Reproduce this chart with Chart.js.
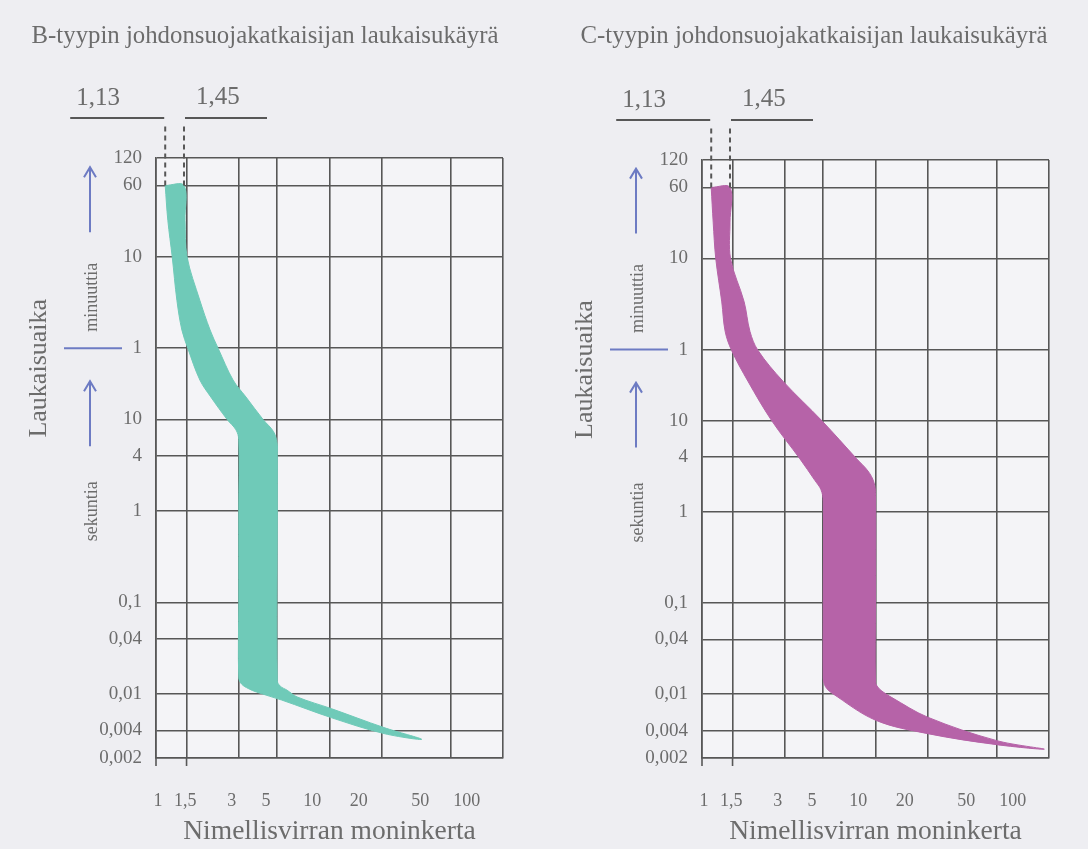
<!DOCTYPE html>
<html>
<head>
<meta charset="utf-8">
<script src="https://cdn.jsdelivr.net/npm/chart.js@4.4.1/dist/chart.umd.min.js"></script>
<style>
  html, body { margin: 0; padding: 0; background: #eeeef2; }
  #wrap { position: relative; width: 1088px; height: 849px; }
  canvas { position: absolute; top: 0; }
</style>
</head>
<body>
<div id="wrap">
  <canvas id="chartB" width="544" height="849" style="left:0"></canvas>
  <canvas id="chartC" width="544" height="849" style="left:544px"></canvas>
</div>
<script>
// Trip curves (laukaisukäyrät) of B and C type circuit breakers.
const gridX = [1, 1.5, 3, 5, 10, 20, 50, 100];
const xLabels = ['1', '1,5', '3', '5', '10', '20', '50', '100'];
const tickMarksX = [1, 1.5];
// time in seconds, labelled in minutes above 1 min
const gridY = [0.002, 0.004, 0.01, 0.04, 0.1, 1, 4, 10, 60, 600, 3600, 7200];
const yLabels = ['0,002', '0,004', '0,01', '0,04', '0,1', '1', '4', '10', '1', '10', '60', '120'];
const limitValues = [1.13, 1.45];
const limitLabels = ['1,13', '1,45'];

// B band: left (lower) edge and right (upper) edge, top to bottom
const bLowerX = [1.13, 1.17, 1.24, 1.32, 1.41, 1.53, 1.79, 2.07, 2.57, 2.89, 3, 3, 3, 3, 3.12, 3.4, 3.8, 5.3, 10.3, 20.6, 34];
const bLowerY = [3600, 1500, 600, 200, 95, 59, 27, 17.6, 10, 7.7, 6, 1, 0.1, 0.015, 0.0128, 0.0115, 0.0105, 0.0086, 0.0055, 0.0037, 0.0032];
const bUpperX = [1.45, 1.47, 1.51, 1.79, 2.05, 2.28, 2.78, 3.3, 4.14, 4.75, 4.98, 5, 5, 5, 5.2, 5.7, 6.5, 10.3, 20.6];
const bUpperY = [3600, 1500, 600, 200, 95, 60, 27, 17.6, 10, 7.4, 5.6, 4, 1, 0.014, 0.0122, 0.011, 0.0093, 0.0069, 0.0043];

// C band
const cLowerX = [1.13, 1.16, 1.2, 1.3, 1.36, 1.48, 1.84, 2.52, 3.67, 4.48, 4.85, 5, 5, 5, 5.08, 5.25, 5.6, 10, 20, 50, 94];
const cLowerY = [3600, 1500, 600, 200, 95, 59, 27, 10, 3.8, 2.2, 1.75, 1.3, 0.1, 0.015, 0.0128, 0.0115, 0.0103, 0.0052, 0.0037, 0.0028, 0.0025];
const cUpperX = [1.45, 1.45, 1.46, 1.75, 1.89, 2.1, 2.93, 4.9, 7.8, 9.05, 9.8, 10, 10, 10, 10.3, 10.9, 12.3, 20, 50];
const cUpperY = [3600, 1500, 600, 200, 95, 59, 27, 10, 3.8, 2.8, 2.1, 1.5, 0.1, 0.0136, 0.012, 0.0108, 0.0093, 0.0056, 0.0031];

const serif = '"Liberation Serif", "DejaVu Serif", serif';
const textColor = '#6c6c6c';
const gridColor = '#575757';
const blue = '#6d7bc3';

Chart.defaults.font.family = serif;

// Closed outline: down the lower edge, back up the upper edge.
function band(lx, ly, ux, uy) {
  const pts = lx.map((x, i) => ({ x: x, y: ly[i] }));
  for (let i = ux.length - 1; i >= 0; i--) pts.push({ x: ux[i], y: uy[i] });
  pts.push(pts[0]);
  return pts;
}

function vText(ctx, text, x, y, size) {
  ctx.save();
  ctx.translate(x, y);
  ctx.rotate(-Math.PI / 2);
  ctx.font = size + 'px ' + serif;
  ctx.fillStyle = textColor;
  ctx.textAlign = 'center';
  ctx.textBaseline = 'middle';
  ctx.fillText(text, 0, 0);
  ctx.restore();
}

function arrowUp(ctx, x, yBottom, yTip) {
  ctx.beginPath();
  ctx.moveTo(x, yBottom);
  ctx.lineTo(x, yTip);
  ctx.moveTo(x - 6, yTip + 10);
  ctx.lineTo(x, yTip);
  ctx.lineTo(x + 6, yTip + 10);
  ctx.stroke();
}

// Plot background plus the marks around the grid (limits, arrows, side texts).
const decor = {
  id: 'decor',
  beforeDraw(chart) {
    const { ctx, chartArea: a } = chart;
    ctx.save();
    ctx.fillStyle = '#f4f4f7';
    ctx.fillRect(a.left, a.top, a.right - a.left, a.bottom - a.top);
    ctx.restore();
  },
  afterDraw(chart) {
    const { ctx, chartArea: a, scales: { x, y } } = chart;
    ctx.save();
    // 1,13 and 1,45 limits
    const xs = limitValues.map(v => x.getPixelForValue(v));
    const y60 = y.getPixelForValue(3600);
    ctx.strokeStyle = gridColor;
    ctx.lineWidth = 2;
    ctx.setLineDash([5, 4]);
    xs.forEach(px => {
      ctx.beginPath();
      ctx.moveTo(px, y60);
      ctx.lineTo(px, a.top - 35);
      ctx.stroke();
    });
    ctx.setLineDash([]);
    const ly = a.top - 40;
    ctx.beginPath();
    ctx.moveTo(xs[0] - 95, ly);
    ctx.lineTo(xs[0] - 1, ly);
    ctx.moveTo(xs[1] + 1, ly);
    ctx.lineTo(xs[1] + 83, ly);
    ctx.stroke();
    ctx.font = '25px ' + serif;
    ctx.fillStyle = textColor;
    ctx.textAlign = 'center';
    ctx.textBaseline = 'middle';
    ctx.fillText(limitLabels[0], xs[0] - 67, a.top - 60);
    ctx.fillText(limitLabels[1], xs[1] + 34, a.top - 61);

    // short tick marks under the axis at 1 and 1,5
    ctx.lineWidth = 1.6;
    tickMarksX.forEach(v => {
      const px = x.getPixelForValue(v);
      ctx.beginPath();
      ctx.moveTo(px, a.bottom);
      ctx.lineTo(px, a.bottom + 8);
      ctx.stroke();
    });

    // minutes / seconds markers
    const m1 = y.getPixelForValue(60);
    const ax = a.left - 66;
    ctx.strokeStyle = blue;
    ctx.lineWidth = 2;
    arrowUp(ctx, ax, m1 - 116, m1 - 181);
    arrowUp(ctx, ax, m1 + 98, m1 + 33);
    ctx.beginPath();
    ctx.moveTo(a.left - 92, m1);
    ctx.lineTo(a.left - 34, m1);
    ctx.stroke();
    vText(ctx, 'minuuttia', a.left - 64, m1 - 51, 18);
    vText(ctx, 'sekuntia', a.left - 64, m1 + 163, 18);
    vText(ctx, 'Laukaisuaika', a.left - 117, m1 + 20, 26);
    ctx.restore();
  }
};

function makeChart(id, title, points, color, pad) {
  return new Chart(document.getElementById(id), {
    type: 'line',
    data: {
      datasets: [{
        data: points,
        backgroundColor: color,
        borderColor: color,
        borderWidth: 1,
        fill: 'shape',
        pointRadius: 0,
        tension: 0.35
      }]
    },
    options: {
      responsive: false,
      animation: false,
      devicePixelRatio: 1,
      layout: { padding: { left: pad.left, right: pad.right, top: 0, bottom: 0 } },
      plugins: {
        legend: { display: false },
        tooltip: { enabled: false },
        title: {
          display: true,
          text: title,
          color: textColor,
          font: { family: serif, size: 24.8, weight: 'normal' },
          padding: { top: 22.1, bottom: pad.top - 22.1 - 29.8 }
        }
      },
      scales: {
        x: {
          type: 'logarithmic',
          min: 1,
          max: 100,
          afterBuildTicks: s => { s.ticks = gridX.map(v => ({ value: v })); },
          afterFit: s => { s.height = 0; },
          ticks: { display: false },
          grid: { color: gridColor, lineWidth: 1.6, drawTicks: false },
          border: { color: gridColor, width: 1.6 }
        },
        // tick labels sit a little left of their grid lines in the original
        xl: {
          type: 'logarithmic',
          position: 'bottom',
          weight: 1,
          min: 0.97,
          max: 172,
          afterBuildTicks: s => { s.ticks = gridX.map(v => ({ value: v })); },
          afterFit: s => { s.height = 91; },
          grid: { display: false },
          border: { display: false },
          ticks: {
            autoSkip: false,
            maxRotation: 0,
            padding: 24,
            color: textColor,
            font: { size: 18 },
            callback: (v, i) => xLabels[i]
          },
          title: {
            display: true,
            text: 'Nimellisvirran moninkerta',
            color: textColor,
            font: { size: 27.5 },
            padding: { top: 0, bottom: 1 }
          }
        },
        y: {
          type: 'logarithmic',
          min: 0.002,
          max: 7200,
          afterBuildTicks: s => { s.ticks = gridY.map(v => ({ value: v })); },
          afterFit: s => { s.width = pad.axis; },
          ticks: {
            autoSkip: false,
            padding: 14,
            color: textColor,
            font: { size: 19 },
            callback: (v, i) => yLabels[i]
          },
          grid: { color: gridColor, lineWidth: 1.6, drawTicks: false },
          border: { color: gridColor, width: 1.6 }
        }
      }
    },
    plugins: [decor]
  });
}

makeChart('chartB', 'B-tyypin johdonsuojakatkaisijan laukaisukäyrä',
  band(bLowerX, bLowerY, bUpperX, bUpperY), '#6fcab8',
  { left: 27, right: 41, axis: 129, top: 158 });
makeChart('chartC', 'C-tyypin johdonsuojakatkaisijan laukaisukäyrä',
  band(cLowerX, cLowerY, cUpperX, cUpperY), '#b663a8',
  { left: 35, right: 39, axis: 123, top: 160 });
</script>
</body>
</html>
